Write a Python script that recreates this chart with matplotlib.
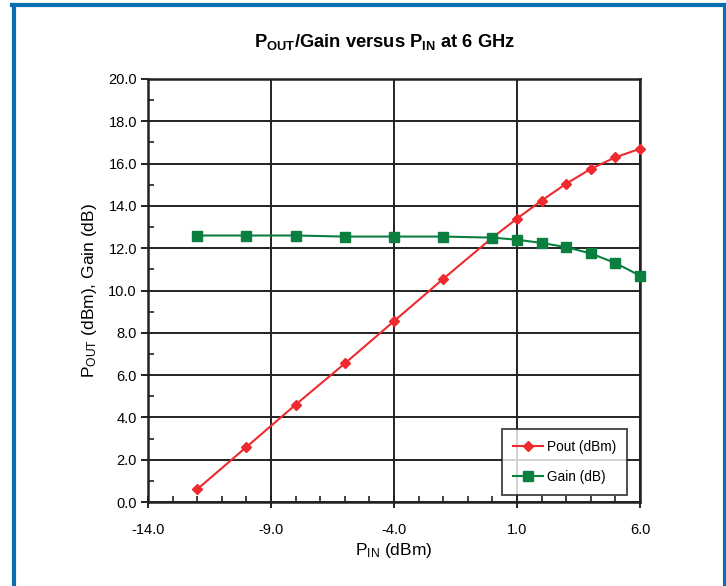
import matplotlib
matplotlib.use("Agg")
import matplotlib.pyplot as plt
from matplotlib.lines import Line2D
from matplotlib.ticker import FixedLocator, MultipleLocator, FormatStrFormatter

plt.rcParams['font.family'] = ['Liberation Sans', 'DejaVu Sans']
plt.rcParams['mathtext.fontset'] = 'custom'
plt.rcParams['mathtext.rm'] = 'Liberation Sans'
plt.rcParams['mathtext.bf'] = 'Liberation Sans:bold'

# ---------------------------------------------------------------- data
p_in = [-12, -10, -8, -6, -4, -2, 0, 1, 2, 3, 4, 5, 6]
p_out = [0.6, 2.6, 4.6, 6.55, 8.55, 10.55, 12.5, 13.4, 14.25, 15.05, 15.75, 16.3, 16.7]
gain = [12.6, 12.6, 12.6, 12.55, 12.55, 12.55, 12.5, 12.4, 12.25, 12.05, 11.75, 11.3, 10.7]
x_ticks = [-14, -9, -4, 1, 6]

RED = "#ee2a2f"
GREEN = "#0b7f3f"
BLUE = "#0a6fb0"
INK = "#222222"

fig = plt.figure(figsize=(7.26, 5.86), dpi=100)
ax = fig.add_axes([148 / 726, 84 / 586, 492 / 726, 423 / 586])

ax.plot(p_in, p_out, color=RED, lw=1.5, marker="D", ms=5, mec=RED,
        label="Pout (dBm)", zorder=4, clip_on=False)
ax.plot(p_in, gain, color=GREEN, lw=1.5, marker="s", ms=7, mec=GREEN,
        label="Gain (dB)", zorder=4, clip_on=False)

ax.set_xlim(-14, 6)
ax.set_ylim(0, 20)
ax.xaxis.set_major_locator(FixedLocator(x_ticks))
ax.xaxis.set_minor_locator(MultipleLocator(1))
ax.yaxis.set_major_locator(MultipleLocator(2))
ax.yaxis.set_minor_locator(MultipleLocator(1))
ax.xaxis.set_major_formatter(FormatStrFormatter("%.1f"))
ax.yaxis.set_major_formatter(FormatStrFormatter("%.1f"))

ax.grid(which="major", color=INK, lw=1.4, zorder=1)
for s in ax.spines.values():
    s.set_color(INK)
    s.set_linewidth(1.8)
ax.tick_params(axis="x", which="major", direction="inout", length=8,
               width=1.4, color=INK, labelsize=10.5, pad=11)
ax.tick_params(axis="x", which="minor", direction="in", length=4,
               width=1.2, color=INK)
ax.tick_params(axis="y", which="major", direction="out", length=5,
               width=1.4, color=INK, labelsize=10.5, pad=3)
ax.tick_params(axis="y", which="minor", direction="in", length=4,
               width=1.2, color=INK)

ax.set_xlabel(r"$\mathregular{P_{IN}}$ (dBm)", fontsize=12.5, labelpad=3)
ax.set_ylabel(r"$\mathregular{P_{OUT}}$ (dBm), Gain (dB)", fontsize=12.5,
              labelpad=7)
fig.text(385 / 726, 1 - 42 / 586,
         r"$\mathbf{P_{OUT}}$/Gain versus $\mathbf{P_{IN}}$ at 6 GHz",
         ha="center", va="center", fontsize=13.2, fontweight="bold")

leg = ax.legend(loc="lower right", bbox_to_anchor=(0.9736, 0.0165),
                fontsize=9.8, frameon=True, fancybox=False, borderpad=0.8,
                labelspacing=1.2, handlelength=2.2, handletextpad=0.3,
                borderaxespad=0)
leg.get_frame().set_edgecolor(INK)
leg.get_frame().set_linewidth(1.4)
leg.set_zorder(5)

# blue frame around the figure (top, left, right)
for xs, ys in [((12, 726), (5, 5)), ((13.5, 13.5), (5, 586)),
               ((724.5, 724.5), (5, 586))]:
    fig.add_artist(Line2D([x / 726 for x in xs], [1 - y / 586 for y in ys],
                          color=BLUE, lw=3, transform=fig.transFigure))

fig.savefig("out.png", dpi=100)
